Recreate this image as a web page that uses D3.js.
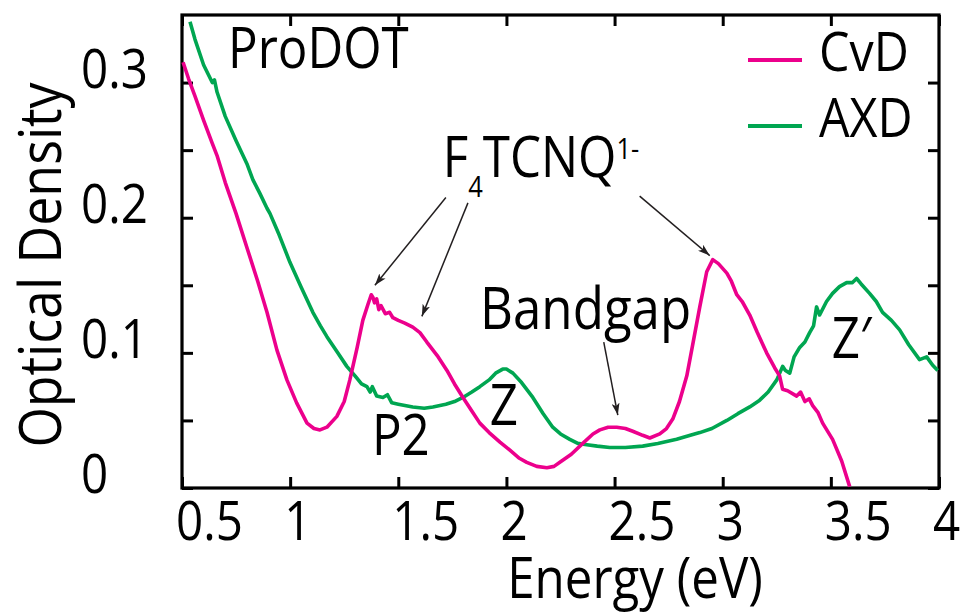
<!DOCTYPE html>
<html>
<head>
<meta charset="utf-8">
<script src="https://cdn.jsdelivr.net/npm/d3@7"></script>
<style>
  body { margin: 0; background: #fff; }
  text { font-family: "Open Sans", "Noto Sans", sans-serif; fill: #000; }
</style>
</head>
<body>
<svg id="chart" width="966" height="613"></svg>
<script>
// Absorption spectra of doped ProDOT films (optical density vs photon energy)
const cvdEnergy = [0.505,0.53,0.56,0.60,0.64,0.662,0.70,0.75,0.80,0.85,0.893,0.939,0.985,1.03,1.078,1.11,1.138,1.17,1.216,1.25,1.276,1.31,1.336,1.36,1.375,1.383,1.39,1.40,1.41,1.42,1.44,1.46,1.475,1.50,1.53,1.567,1.60,1.632,1.68,1.725,1.76,1.799,1.84,1.877,1.92,1.97,2.016,2.06,2.094,2.14,2.187,2.22,2.247,2.30,2.353,2.40,2.432,2.47,2.51,2.55,2.584,2.63,2.663,2.709,2.74,2.769,2.80,2.834,2.86,2.894,2.926,2.954,2.98,3.019,3.04,3.065,3.09,3.125,3.16,3.203,3.24,3.263,3.277,3.30,3.342,3.36,3.38,3.40,3.416,3.44,3.462,3.508,3.55,3.587];
const cvdOD = [0.315,0.303,0.290,0.272,0.255,0.246,0.226,0.203,0.178,0.153,0.130,0.102,0.080,0.063,0.048,0.044,0.043,0.045,0.053,0.064,0.080,0.104,0.124,0.136,0.143,0.141,0.137,0.140,0.132,0.135,0.129,0.130,0.126,0.124,0.122,0.119,0.115,0.108,0.098,0.087,0.077,0.067,0.057,0.048,0.041,0.034,0.028,0.022,0.019,0.016,0.015,0.016,0.019,0.025,0.033,0.040,0.043,0.045,0.045,0.044,0.042,0.039,0.037,0.040,0.044,0.051,0.064,0.083,0.105,0.134,0.160,0.169,0.166,0.159,0.153,0.143,0.138,0.128,0.115,0.100,0.089,0.083,0.073,0.072,0.068,0.071,0.064,0.066,0.061,0.056,0.048,0.036,0.020,0.001];

const axdEnergy = [0.537,0.56,0.60,0.64,0.65,0.662,0.70,0.75,0.80,0.828,0.86,0.893,0.907,0.95,0.999,1.05,1.105,1.14,1.17,1.22,1.262,1.30,1.33,1.355,1.37,1.38,1.40,1.429,1.45,1.47,1.50,1.567,1.62,1.66,1.72,1.76,1.799,1.84,1.877,1.92,1.95,1.983,2.00,2.03,2.07,2.122,2.17,2.214,2.25,2.293,2.33,2.372,2.42,2.478,2.55,2.63,2.70,2.787,2.85,2.894,2.95,3.019,3.07,3.125,3.171,3.21,3.25,3.277,3.29,3.31,3.33,3.356,3.38,3.402,3.42,3.434,3.448,3.48,3.508,3.54,3.573,3.60,3.619,3.64,3.679,3.71,3.739,3.78,3.818,3.86,3.91,3.943,3.97,3.994];
const axdOD = [0.345,0.332,0.313,0.300,0.302,0.293,0.275,0.257,0.240,0.228,0.218,0.207,0.203,0.187,0.167,0.149,0.130,0.120,0.112,0.100,0.090,0.083,0.077,0.075,0.071,0.075,0.068,0.067,0.069,0.063,0.062,0.060,0.059,0.060,0.062,0.064,0.067,0.071,0.075,0.080,0.085,0.088,0.088,0.085,0.078,0.067,0.055,0.045,0.040,0.036,0.033,0.032,0.031,0.030,0.030,0.031,0.033,0.036,0.039,0.041,0.044,0.050,0.055,0.060,0.065,0.071,0.080,0.090,0.087,0.085,0.097,0.104,0.108,0.115,0.120,0.134,0.128,0.138,0.144,0.149,0.152,0.152,0.155,0.151,0.144,0.138,0.130,0.124,0.117,0.106,0.095,0.097,0.091,0.087];

const seriesNames = ["CvD", "AXD"];
const seriesColors = ["#ec008c", "#00a651"];

const xTickValues = [0.5, 1, 1.5, 2, 2.5, 3, 3.5, 4];
const xTickLabels = ["0.5", "1", "1.5", "2", "2.5", "3", "3.5", "4"];
const yTickValues = [0, 0.1, 0.2, 0.3];
const yTickLabels = ["0", "0.1", "0.2", "0.3"];
const yMinorValues = [0, 0.05, 0.1, 0.15, 0.2, 0.25, 0.3];

const xTitle = "Energy (eV)";
const yTitle = "Optical Density";

// annotation text anchored in data units (energy, optical density)
const notes = [
  { text: "ProDOT", e: 0.713, od: 0.311, size: 56 },
  { text: "Bandgap", e: 1.878, od: 0.118, size: 58 },
  { text: "Z", e: 1.923, od: 0.0466, size: 56 },
  { text: "Z\u2032", e: 3.504, od: 0.0962, size: 56 },
  { text: "P2", e: 1.378, od: 0.0244, size: 56 }
];
// arrows: from label to feature, in data units
const arrows = [
  { e0: 1.720, od0: 0.215, e1: 1.392, od1: 0.150 },
  { e0: 1.822, od0: 0.211, e1: 1.609, od1: 0.127 },
  { e0: 2.616, od0: 0.216, e1: 2.940, od1: 0.172 },
  { e0: 2.450, od0: 0.108, e1: 2.515, od1: 0.054 }
];

const plot = { left: 182, right: 939, top: 15, bottom: 488 };
const SX = 0.88; // horizontal condensing of all text

const svg = d3.select("#chart");
const x = d3.scaleLinear().domain([0.5, 4]).range([plot.left, plot.right]);
const y = d3.scaleLinear().domain([0, 0.35]).range([plot.bottom, plot.top]);

function addText(parent, str, px, py, size, anchor) {
  return parent.append("text")
    .attr("transform", `translate(${px},${py}) scale(${SX},1)`)
    .attr("font-size", size)
    .attr("text-anchor", anchor || "start")
    .text(str);
}

// inward ticks on all four sides
const tickLen = 11;
function tickAxis(gen, tx, ty) {
  const g = svg.append("g").attr("transform", `translate(${tx},${ty})`).call(gen);
  g.select(".domain").remove();
  g.selectAll("line").attr("stroke", "#000").attr("stroke-width", 3);
  g.selectAll("text").remove();
  return g;
}
tickAxis(d3.axisBottom(x).tickValues(xTickValues).tickSizeInner(-tickLen).tickSizeOuter(0), 0, plot.bottom);
tickAxis(d3.axisTop(x).tickValues(xTickValues).tickSizeInner(-tickLen).tickSizeOuter(0), 0, plot.top);
tickAxis(d3.axisLeft(y).tickValues(yMinorValues).tickSizeInner(-tickLen).tickSizeOuter(0), plot.left, 0);
tickAxis(d3.axisRight(y).tickValues(yMinorValues).tickSizeInner(-tickLen).tickSizeOuter(0), plot.right, 0);

// frame
svg.append("rect")
  .attr("x", plot.left).attr("y", plot.top)
  .attr("width", plot.right - plot.left).attr("height", plot.bottom - plot.top)
  .attr("fill", "none").attr("stroke", "#000").attr("stroke-width", 3.2);

// tick labels
const tickFont = 54;
xTickValues.forEach((v, i) => {
  addText(svg, xTickLabels[i], x(v) - 6, 540, tickFont, "start");
});
yTickValues.forEach((v, i) => {
  addText(svg, yTickLabels[i], 81, y(v) + 5, tickFont, "start");
});

// axis titles
addText(svg, xTitle, 635, 598, 56, "middle");
svg.append("text")
  .attr("transform", `translate(61,265) rotate(-90) scale(${SX},1)`)
  .attr("font-size", 59)
  .attr("text-anchor", "middle")
  .text(yTitle);

// spectra
const line = d3.line().x(d => x(d[0])).y(d => y(d[1]));
const series = [
  d3.zip(cvdEnergy, cvdOD),
  d3.zip(axdEnergy, axdOD)
];
// AXD drawn first so CvD sits on top
[1, 0].forEach(k => {
  svg.append("path")
    .datum(series[k])
    .attr("d", line)
    .attr("fill", "none")
    .attr("stroke", seriesColors[k])
    .attr("stroke-width", 3.6)
    .attr("stroke-linejoin", "round");
});

// legend
const legendRows = [60, 126];
seriesNames.forEach((name, i) => {
  svg.append("line")
    .attr("x1", 748).attr("x2", 802)
    .attr("y1", legendRows[i]).attr("y2", legendRows[i])
    .attr("stroke", seriesColors[i]).attr("stroke-width", 4);
  addText(svg, name, 819, legendRows[i] + 11, 55, "start");
});

// annotation labels
notes.forEach(n => addText(svg, n.text, x(n.e), y(n.od), n.size, "start"));

// F4TCNQ1- with sub/superscripts
const f4 = svg.append("text")
  .attr("transform", `translate(${x(1.706)},${y(0.230)}) scale(${SX},1)`)
  .attr("font-size", 56);
f4.append("tspan").text("F");
f4.append("tspan").attr("font-size", 29).attr("dy", 20).text("4");
f4.append("tspan").attr("dy", -20).text("TCNQ");
f4.append("tspan").attr("font-size", 29).attr("dy", -18).text("1-");

// arrows
svg.append("defs").append("marker")
  .attr("id", "head")
  .attr("viewBox", "0 0 12 8")
  .attr("refX", 12).attr("refY", 4)
  .attr("markerWidth", 12).attr("markerHeight", 8)
  .attr("markerUnits", "userSpaceOnUse")
  .attr("orient", "auto")
  .append("path").attr("d", "M0,0 L12,4 L0,8 L3,4 Z").attr("fill", "#231f20");

arrows.forEach(a => {
  svg.append("line")
    .attr("x1", x(a.e0)).attr("y1", y(a.od0))
    .attr("x2", x(a.e1)).attr("y2", y(a.od1))
    .attr("stroke", "#231f20").attr("stroke-width", 1.5)
    .attr("marker-end", "url(#head)");
});
</script>
</body>
</html>
